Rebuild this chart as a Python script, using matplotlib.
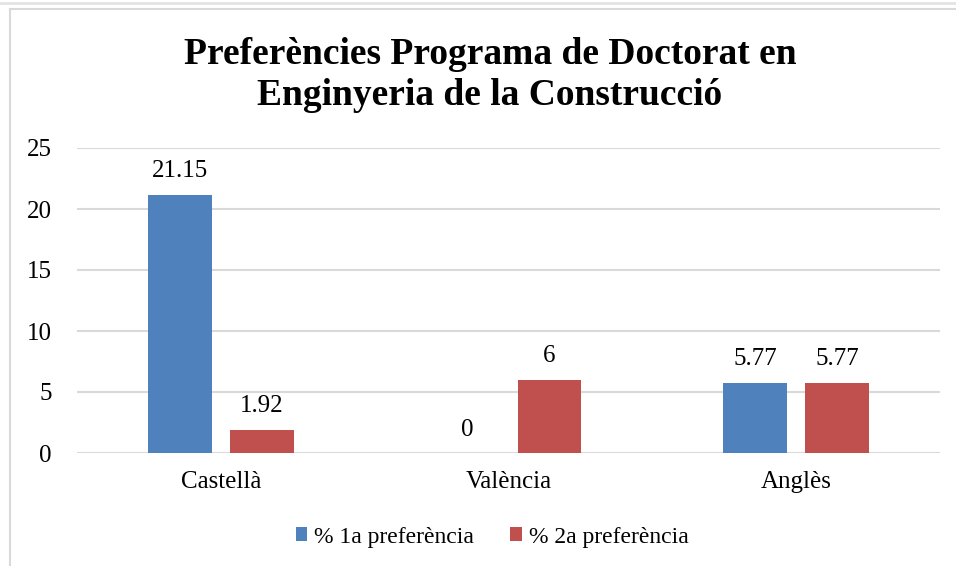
import numpy as np
import matplotlib
matplotlib.use("Agg")
import matplotlib.pyplot as plt
from matplotlib.lines import Line2D

#%% data
categories = ["Castellà", "València", "Anglès"]
pref1 = [21.15, 0, 5.77]
pref2 = [1.92, 6, 5.77]
labels1 = ["21.15", "0", "5.77"]
labels2 = ["1.92", "6", "5.77"]
series_names = ["% 1a preferència", "% 2a preferència"]
yticks = [0, 5, 10, 15, 20, 25]

#%% plot
plt.rcParams['font.family'] = ['Liberation Serif', 'DejaVu Serif']

W, H = 956, 566
fig = plt.figure(figsize=(W / 100, H / 100), dpi=100)
ax = fig.add_axes([77 / W, 1 - 453 / H, (940 - 77) / W, (453 - 148) / H])

x = np.arange(len(categories))
bw = 0.222
off = 0.1425
b1 = ax.bar(x - off, pref1, bw, color='#4F81BD', label=series_names[0], zorder=3)
b2 = ax.bar(x + off, pref2, bw, color='#C0504D', label=series_names[1], zorder=3)

for bars, labs in [(b1, labels1), (b2, labels2)]:
    for r, t in zip(bars, labs):
        ax.annotate(t, (r.get_x() + r.get_width() / 2, r.get_height()),
                    xytext=(0, 9), textcoords='offset points',
                    ha='center', va='bottom', fontsize=18)

ax.set_xlim(-0.5, 2.5)
ax.set_ylim(0, 25)
ax.set_yticks(yticks)
ax.set_xticks(x)
ax.set_xticklabels(categories)
ax.tick_params(axis='both', length=0, labelsize=18)
ax.tick_params(axis='y', pad=18)
ax.tick_params(axis='x', pad=13)
ax.yaxis.grid(True, color='#D9D9D9', linewidth=1.5, zorder=0)
for s in ax.spines.values():
    s.set_visible(False)

fig.text(490 / W, 1 - 75 / H,
         "Preferències Programa de Doctorat en\nEnginyeria de la Construcció",
         ha='center', va='center', fontsize=27, fontweight='bold',
         linespacing=1.25)

fig.legend(handles=[b1, b2], labels=series_names, loc='center',
           bbox_to_anchor=(492 / W, 1 - 537 / H), ncol=2, frameon=False,
           fontsize=17, handlelength=0.5, handleheight=0.5, handletextpad=0.3,
           columnspacing=1.5)

# chart border
fig.add_artist(Line2D([0, 1], [1 - 2.5 / H, 1 - 2.5 / H], color='#E3E3E3', linewidth=2))
fig.add_artist(Line2D([9.5 / W, 1], [1 - 8.5 / H, 1 - 8.5 / H], color='#D9D9D9', linewidth=1.5))
fig.add_artist(Line2D([9.5 / W, 9.5 / W], [0, 1 - 8.5 / H], color='#D9D9D9', linewidth=1.5))

fig.savefig('out.png', dpi=100)
